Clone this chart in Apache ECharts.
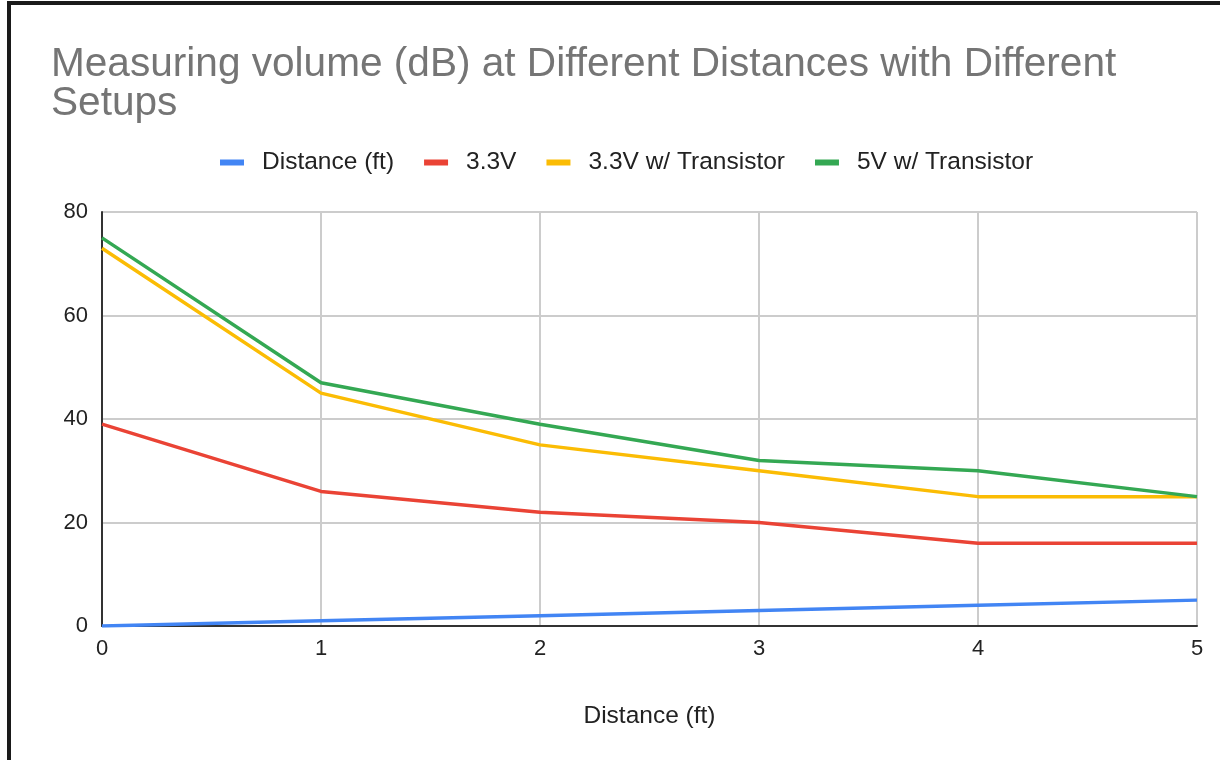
<!DOCTYPE html>
<html>
<head>
<meta charset="utf-8">
<script src="https://cdn.jsdelivr.net/npm/echarts@6/dist/echarts.min.js"></script>
<style>
  html, body { margin: 0; padding: 0; background: #fff; }
  #chart { width: 1220px; height: 760px; }
</style>
</head>
<body>
<div id="chart"></div>
<script>
// Sound level readings (dB) taken at each distance for every speaker setup
const distances = [0, 1, 2, 3, 4, 5];
const distanceSeries = [0, 1, 2, 3, 4, 5];
const v33 = [39, 26, 22, 20, 16, 16];
const v33Transistor = [73, 45, 35, 30, 25, 25];
const v5Transistor = [75, 47, 39, 32, 30, 25];
const seriesNames = ['Distance (ft)', '3.3V', '3.3V w/ Transistor', '5V w/ Transistor'];
const yTicks = [0, 20, 40, 60, 80];

const FONT = '"Liberation Sans", Arial, sans-serif';
const colors = ['#4285F4', '#EA4335', '#FBBC04', '#34A853'];

function pairs(vals) {
  return distances.map((d, i) => [d, vals[i]]);
}

const chart = echarts.init(document.getElementById('chart'), null, { renderer: 'canvas' });

chart.setOption({
  animation: false,
  backgroundColor: '#fff',
  color: colors,
  textStyle: { fontFamily: FONT },
  graphic: [
    // dark frame along the top and left edges
    { type: 'rect', left: 7, top: 1, shape: { width: 1213, height: 4 }, style: { fill: '#1a1a1a' }, z: 100 },
    { type: 'rect', left: 7, top: 1, shape: { width: 4, height: 759 }, style: { fill: '#1a1a1a' }, z: 100 }
  ],
  title: {
    text: 'Measuring volume (dB) at Different Distances with Different\nSetups',
    left: 46,
    top: 40,
    textStyle: {
      fontFamily: FONT,
      fontSize: 40.6,
      fontWeight: 'normal',
      color: '#757575',
      lineHeight: 39
    }
  },
  legend: {
    data: seriesNames,
    top: 145,
    left: 215,
    itemWidth: 24,
    itemHeight: 6,
    itemGap: 30,
    icon: 'rect',
    textStyle: { fontFamily: FONT, fontSize: 24.5, color: '#222', padding: [0, 0, 0, 13] }
  },
  grid: {
    left: 102,
    right: 23,
    top: 212,
    bottom: 134,
    containLabel: false
  },
  xAxis: {
    type: 'value',
    min: 0,
    max: 5,
    interval: 1,
    name: 'Distance (ft)',
    nameLocation: 'middle',
    nameGap: 78,
    nameTextStyle: { fontFamily: FONT, fontSize: 24.5, color: '#222' },
    axisLine: { show: true, lineStyle: { color: '#333', width: 2 } },
    axisTick: { show: false },
    axisLabel: { fontFamily: FONT, fontSize: 22, color: '#222', margin: 12 },
    splitLine: { show: true, lineStyle: { color: '#ccc', width: 2 } }
  },
  yAxis: {
    type: 'value',
    min: 0,
    max: 80,
    interval: 20,
    axisLine: { show: true, lineStyle: { color: '#333', width: 2 } },
    axisTick: { show: false },
    axisLabel: {
      fontFamily: FONT, fontSize: 22, color: '#222', margin: 14,
      formatter: v => (yTicks.includes(v) ? String(v) : '')
    },
    splitLine: { show: true, lineStyle: { color: '#ccc', width: 2 } }
  },
  series: [
    { name: seriesNames[0], type: 'line', data: pairs(distanceSeries), showSymbol: false, lineStyle: { width: 3.5 } },
    { name: seriesNames[1], type: 'line', data: pairs(v33), showSymbol: false, lineStyle: { width: 3.5 } },
    { name: seriesNames[2], type: 'line', data: pairs(v33Transistor), showSymbol: false, lineStyle: { width: 3.5 } },
    { name: seriesNames[3], type: 'line', data: pairs(v5Transistor), showSymbol: false, lineStyle: { width: 3.5 } }
  ]
});
</script>
</body>
</html>
